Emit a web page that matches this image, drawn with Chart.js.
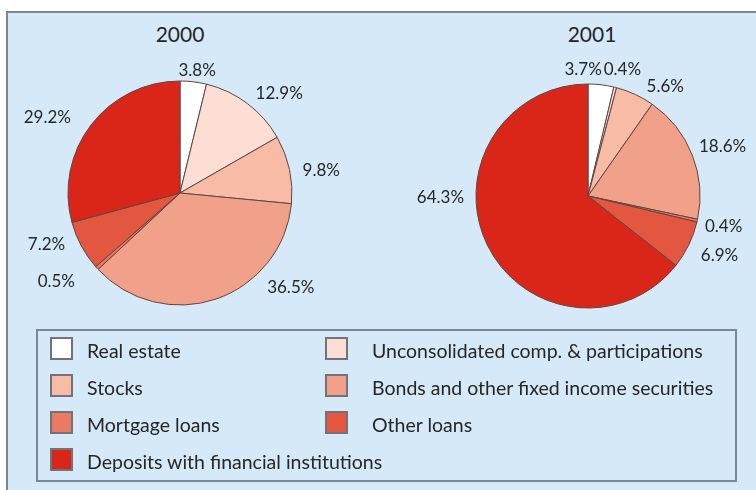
<!DOCTYPE html>
<html>
<head>
<meta charset="utf-8">
<script src="https://cdn.jsdelivr.net/npm/chart.js@4/dist/chart.umd.min.js"></script>
<style>
  html, body { margin: 0; padding: 0; background: #ffffff; overflow: hidden; }
  body { width: 756px; height: 490px; position: relative; font-family: Lato, "Open Sans", sans-serif; color: #262626; }
  #frame { position: absolute; left: 6px; top: 11px; width: 750px; height: 479px;
           border-left: 2px solid #7c8891; border-top: 2px solid #7c8891; background: #d6e9f8; box-sizing: border-box; }
  .title { position: absolute; top: 20px; width: 120px; text-align: center; font-size: 21px; line-height: 28px; }
  canvas.pie { position: absolute; }
  #legendBox { position: absolute; left: 36px; top: 329px; width: 701px; height: 153px;
               border: 2px solid #7b8893; box-sizing: border-box; }
  .sw { position: absolute; width: 23px; height: 23px; border: 2px solid #707377; box-sizing: border-box; }
  .lt { position: absolute; font-size: 19.5px; line-height: 24px; white-space: nowrap; }
</style>
</head>
<body>
<div id="frame"></div>
<div class="title" style="left:120px">2000</div>
<div class="title" style="left:532px">2001</div>
<canvas id="pie2000" class="pie" width="360" height="300" style="left:0px;top:43px;width:360px;height:300px"></canvas>
<canvas id="pie2001" class="pie" width="380" height="300" style="left:398px;top:46px;width:380px;height:300px"></canvas>
<div id="legendBox"></div>
<div id="legend"></div>
<script>
// Asset categories, in the clockwise order of the slices
const categories = [
  "Real estate",
  "Unconsolidated comp. & participations",
  "Stocks",
  "Bonds and other fixed income securities",
  "Mortgage loans",
  "Other loans",
  "Deposits with financial institutions"
];

// Share of each category, in percent
const shares2000 = [3.8, 12.9, 9.8, 36.5, 0.5, 7.2, 29.2];
const shares2001 = [3.7, 0.4, 5.6, 18.6, 0.4, 6.9, 64.3];

// Fill colours, one per category
const sliceColors = ["#ffffff", "#fcded4", "#f7bba6", "#f1a08a", "#ec7a62", "#e35740", "#da2619"];

// Draws the percentage next to each slice
const pctLabels = {
  id: 'pctLabels',
  afterDatasetsDraw(chart, args, opts) {
    const ctx = chart.ctx;
    const meta = chart.getDatasetMeta(0);
    const values = chart.data.datasets[0].data;
    ctx.save();
    ctx.font = opts.font;
    ctx.fillStyle = opts.color;
    ctx.textAlign = 'center';
    ctx.textBaseline = 'middle';
    meta.data.forEach((arc, i) => {
      const p = arc.getProps(['x', 'y', 'startAngle', 'endAngle', 'outerRadius'], true);
      const a = (p.startAngle + p.endAngle) / 2 + (opts.turn[i] || 0) * Math.PI / 180;
      const text = values[i].toFixed(1) + '%';
      const w = ctx.measureText(text).width;
      const h = opts.textHeight;
      const ux = Math.cos(a), uy = Math.sin(a);
      const d = p.outerRadius + (opts.gap[i] || 0);
      ctx.fillText(text, p.x + ux * d + ux * w / 2, p.y + uy * d + uy * h / 2);
    });
    ctx.restore();
  }
};

function makePie(id, values, turn, gap) {
  return new Chart(document.getElementById(id), {
    type: 'pie',
    data: {
      labels: categories,
      datasets: [{
        data: values,
        backgroundColor: sliceColors,
        borderColor: '#5e4540',
        borderWidth: 1,
        radius: 112
      }]
    },
    options: {
      responsive: false,
      animation: false,
      events: [],
      layout: { padding: 0 },
      plugins: {
        legend: { display: false },
        tooltip: { enabled: false },
        pctLabels: {
          font: '17px Lato, "Open Sans", sans-serif',
          color: '#262626',
          textHeight: 13,
          turn: turn,
          gap: gap
        }
      }
    },
    plugins: [pctLabels]
  });
}

// label nudges: extra rotation (degrees) and distance from the rim (px)
makePie('pie2000', shares2000, [0.4, 4.6, 2.2, -27.4, 4.2, 5.5, -4.7], [5, 14, 12.7, 18, 26, 14, 22]);
makePie('pie2001', shares2001, [-8.7, -0.1, 7.9, -0.9, 1.1, 0.4, 25.4], [8, 12, 12, 10, 9, 16, 12]);

// Legend: two columns of swatch + name
const legend = document.getElementById('legend');
categories.forEach((name, i) => {
  const col = i % 2, row = Math.floor(i / 2);
  const top = 337 + row * 37;
  const sw = document.createElement('div');
  sw.className = 'sw';
  sw.style.left = (col ? 325 : 50) + 'px';
  sw.style.top = top + 'px';
  sw.style.background = sliceColors[i];
  legend.appendChild(sw);
  const t = document.createElement('div');
  t.className = 'lt';
  t.style.left = (col ? 372 : 87) + 'px';
  t.style.top = (top + 2) + 'px';
  t.textContent = name;
  legend.appendChild(t);
});
</script>
</body>
</html>
